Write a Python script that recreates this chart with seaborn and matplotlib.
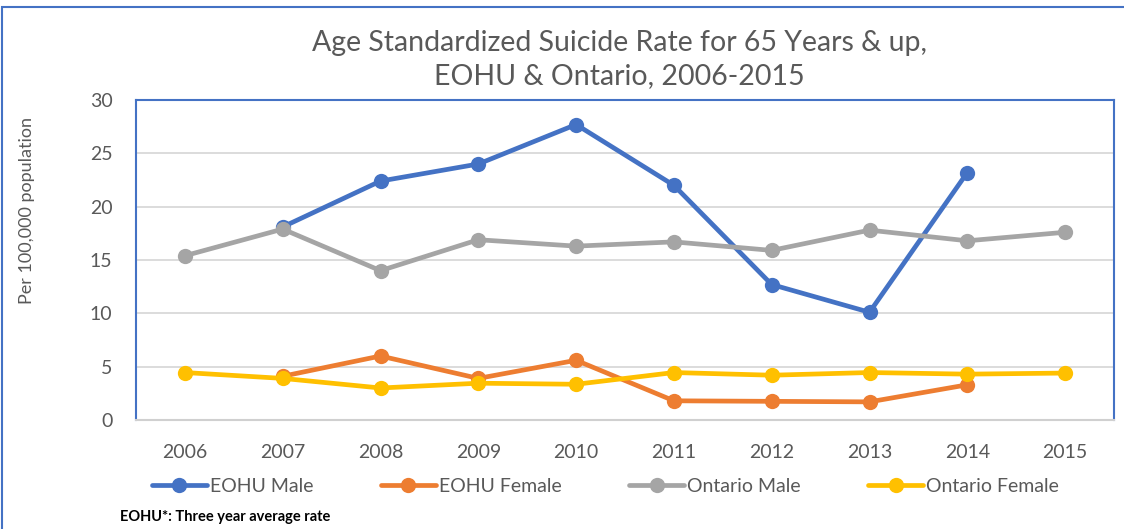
import matplotlib
matplotlib.use("Agg")
import matplotlib.pyplot as plt
import seaborn as sns
import numpy as np
import pandas as pd
from matplotlib.patches import Rectangle

years = [2006, 2007, 2008, 2009, 2010, 2011, 2012, 2013, 2014, 2015]
eohu_male = [np.nan, 18.1, 22.4, 24.0, 27.7, 22.0, 12.7, 10.1, 23.2, np.nan]
eohu_female = [np.nan, 4.1, 6.0, 3.9, 5.6, 1.8, 1.75, 1.7, 3.3, np.nan]
ontario_male = [15.4, 17.9, 14.0, 16.9, 16.3, 16.7, 15.9, 17.8, 16.8, 17.6]
ontario_female = [4.45, 3.9, 3.0, 3.45, 3.35, 4.45, 4.2, 4.45, 4.3, 4.4]

series_names = ["EOHU Male", "EOHU Female", "Ontario Male", "Ontario Female"]
colors = ["#4472C4", "#ED7D31", "#A5A5A5", "#FFC000"]

df = pd.DataFrame({
    "Year": years * 4,
    "Rate": eohu_male + eohu_female + ontario_male + ontario_female,
    "Series": sum([[n] * len(years) for n in series_names], []),
})

sns.set_theme(style="white")
plt.rcParams["font.family"] = ["Lato", "DejaVu Sans"]

fig = plt.figure(figsize=(11.24, 5.29), dpi=100)
ax = fig.add_axes([136 / 1124, 1 - 420 / 529, (1114 - 136) / 1124, 320 / 529])

sns.lineplot(data=df, x="Year", y="Rate", hue="Series", hue_order=series_names,
             palette=colors, marker="o", markersize=11, linewidth=3.4,
             markeredgewidth=0, ax=ax, legend=True)

ax.set_xlim(2005.5, 2015.5)
ax.set_ylim(0, 30)
ax.set_xticks(years)
ax.set_xticklabels([str(y) for y in years])
ax.set_yticks(range(0, 31, 5))
ax.yaxis.grid(True, color="#D9D9D9", linewidth=1.3)
ax.set_axisbelow(True)
ax.tick_params(axis="both", length=0, labelsize=14, labelcolor="#595959")
ax.tick_params(axis="x", pad=17)
ax.tick_params(axis="y", pad=17)
ax.set_xlabel("")
ax.set_ylabel("Per 100,000 population", fontsize=13, color="#595959")
ax.yaxis.set_label_coords((35 - 136) / 978, (420 - 210) / 320)

for s in ["left", "top", "right"]:
    ax.spines[s].set_color("#4472C4")
    ax.spines[s].set_linewidth(1.5)
ax.spines["bottom"].set_color("#D0D0D0")
ax.spines["bottom"].set_linewidth(1.5)

handles, labels = ax.get_legend_handles_labels()
ax.legend(handles, labels, loc="upper center", bbox_to_anchor=(0.48, -0.125),
          ncol=4, frameon=False, fontsize=14, handlelength=2.85,
          handletextpad=0.15, columnspacing=3.45, labelcolor="#595959")

fig.text(0.551, 1 - 43 / 529, "Age Standardized Suicide Rate for 65 Years & up,",
         ha="center", va="center", fontsize=20.5, color="#595959")
fig.text(0.551, 1 - 76 / 529, "EOHU & Ontario, 2006-2015",
         ha="center", va="center", fontsize=20.5, color="#595959")
fig.text(120 / 1124, 1 - 517 / 529, "EOHU*: Three year average rate",
         ha="left", va="center", fontsize=10.5, fontweight="bold", color="black")

fig.patches.append(Rectangle((2 / 1124, -0.05), 1.1, 1.05 - 7 / 529,
                             transform=fig.transFigure, fill=False,
                             edgecolor="#4472C4", linewidth=1.5))

fig.savefig("out.png", dpi=100)
